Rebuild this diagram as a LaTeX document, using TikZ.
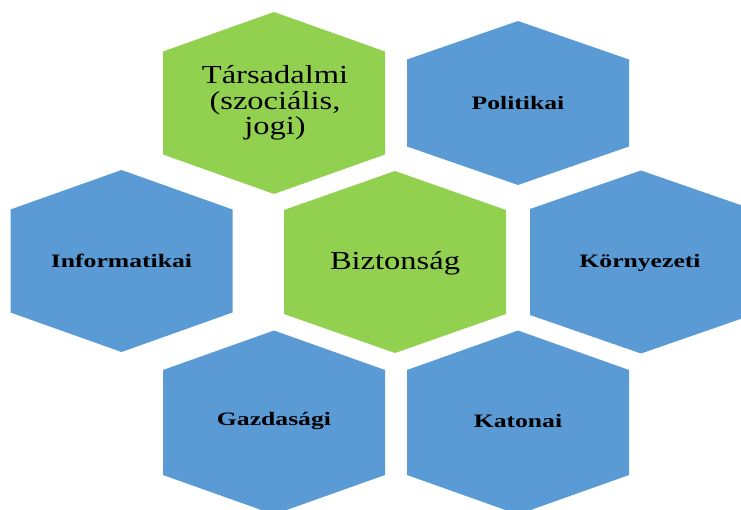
\documentclass[tikz,border=0pt]{standalone}
\usepackage{fontspec}
\setmainfont{Liberation Serif}
\newfontfamily\bigfont[FakeStretch=1.25]{Liberation Serif}
\newfontfamily\smallfont[FakeStretch=1.35]{Liberation Serif}
\definecolor{hexgreen}{HTML}{92D050}
\definecolor{hexblue}{HTML}{5B9BD5}
\newcommand\hexfill[5]{%
  \fill[#5] (#1,#2-#3-#4) -- (#1+111,#2-#3) -- (#1+111,#2+#3) -- (#1,#2+#3+#4)
    -- (#1-111,#2+#3) -- (#1-111,#2-#3) -- cycle;}
\tikzset{
  bigtext/.style={font=\bigfont\fontsize{26}{25.5}\selectfont, align=center, text=black, inner sep=0pt},
  smalltext/.style={font=\smallfont\bfseries\fontsize{19}{22}\selectfont, align=center, text=black, inner sep=0pt}
}
\begin{document}
\begin{tikzpicture}[x=1pt,y=-1pt]
\useasboundingbox (0,0) rectangle (741,510);
\clip (0,0) rectangle (741,510);
% hexagons
\hexfill{274}{103}{51.5}{39.5}{hexgreen}
\hexfill{518}{103}{43.5}{38.5}{hexblue}
\hexfill{121.5}{261}{51.5}{39.5}{hexblue}
\hexfill{395}{262}{52}{39}{hexgreen}
\hexfill{641}{262}{53}{38.5}{hexblue}
\hexfill{274}{422.5}{52.5}{39.5}{hexblue}
\hexfill{518}{422.5}{52.5}{39.5}{hexblue}
% labels
\node[bigtext] (tars) at (275,103) {Társadalmi\\(szociális,\\jogi)};
\node[smalltext] (pol) at (518,103) {Politikai};
\node[smalltext] (inf) at (121.5,261) {Informatikai};
\node[bigtext] (bizt) at (395,263) {Biztonság};
\node[smalltext] (korny) at (640,263) {Környezeti};
\node[smalltext] (gazd) at (274,421) {Gazdasági};
\node[smalltext] (kat) at (518,421) {Katonai};
\end{tikzpicture}
\end{document}
